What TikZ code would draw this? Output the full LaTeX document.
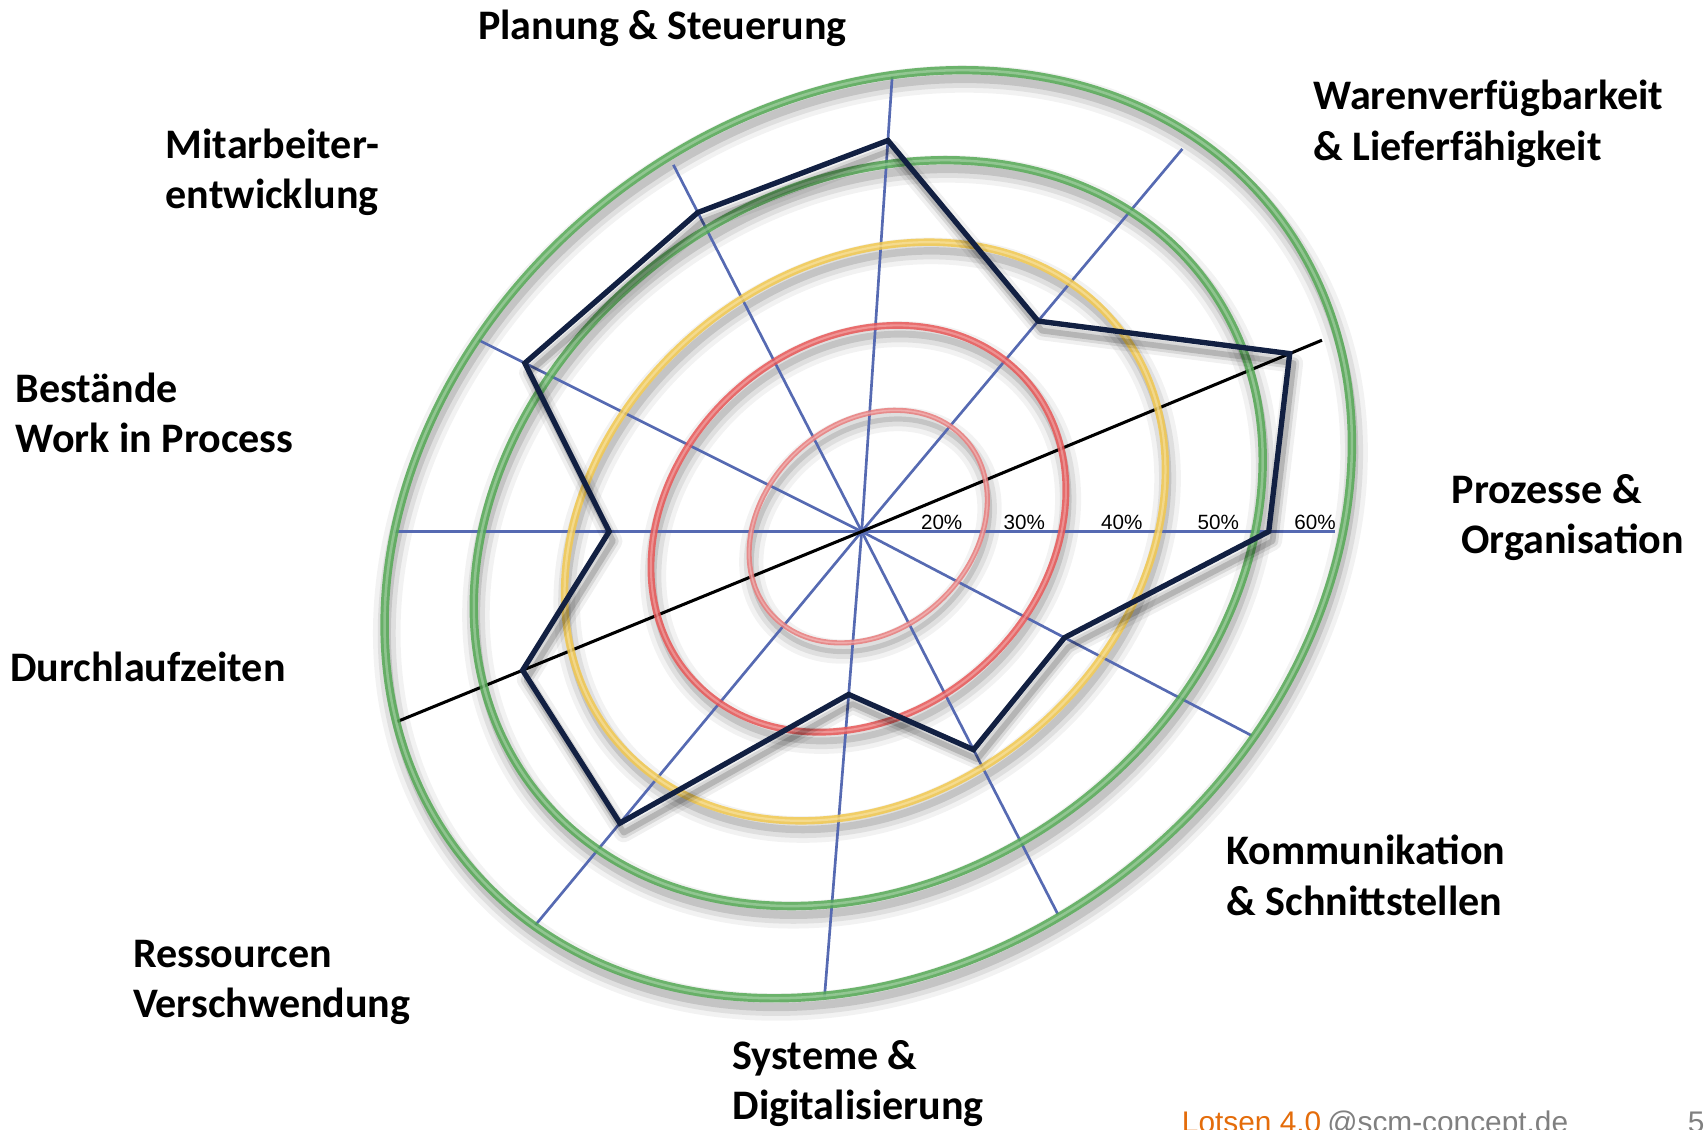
\documentclass[tikz,border=0pt]{standalone}
\usepackage{fontspec}
\setmainfont{Carlito}
\newfontfamily\chartfont{Liberation Sans}
\usetikzlibrary{positioning}
\usetikzlibrary{calc}

\definecolor{ringgreen}{RGB}{84,168,84}
\definecolor{ringyellow}{RGB}{242,200,78}
\definecolor{ringred}{RGB}{232,86,86}
\definecolor{ringpink}{RGB}{232,124,124}
\definecolor{spokeblue}{RGB}{86,106,178}
\definecolor{scorenavy}{RGB}{18,32,66}
\definecolor{lotsenorange}{RGB}{228,108,10}
\definecolor{footgray}{RGB}{128,128,128}

\begin{document}
\begin{tikzpicture}
                [x=0.02cm, y=-0.02cm,
                 every node/.style={inner sep=0pt},
                 areaname/.style={font=\bfseries\fontsize{22}{26.3}\selectfont, align=left, anchor=base west},
                 pct/.style={font=\chartfont\fontsize{10.8}{13}\selectfont, anchor=base},
                 footer/.style={font=\chartfont\fontsize{15.6}{18}\selectfont, anchor=base west},
                 spoke/.style={draw=spokeblue, line width=1.4pt},
                 blackspoke/.style={draw=black, line width=1.6pt},
                 ringshade/.style={draw=black, line cap=round},
                 score/.style={draw=scorenavy, line width=2.8pt, line join=miter}]
                \useasboundingbox (0,0) rectangle (1568,1038);

                % centre and spoke ends
                \coordinate (c) at (792,488.5);
                \coordinate (r1) at (820,70.6);
                \coordinate (r2) at (1086.7,136.9);
                \coordinate (r3) at (1215,312.7);
                \coordinate (r4) at (1227,488.5);
                \coordinate (r5) at (1150.5,676.1);
                \coordinate (r6) at (972.3,840.3);
                \coordinate (r7) at (757.8,916.4);
                \coordinate (r8) at (491.7,850.7);
                \coordinate (r9) at (365.1,663.2);
                \coordinate (r10) at (362.1,488.5);
                \coordinate (r11) at (440.2,312.7);
                \coordinate (r12) at (618.9,151.5);

                % ring shadows
                \foreach \cx/\cy/\rx/\ry/\rot/\w in {798/491/9.54/7.80/39/4.4pt, 798/490/7.74/6.30/37/4.4pt,
                    795/488.5/5.98/4.80/40/3.9pt, 789/486/4.12/3.40/42/3.6pt, 798/484/2.40/1.90/42/2.7pt}
                {
                  \begin{scope}[shift={(\cx+2,\cy+8)}, rotate=\rot]
                    \draw[ringshade, opacity=0.05, line width=\w+10pt] (0,0) ellipse [x radius=\rx cm, y radius=\ry cm];
                    \draw[ringshade, opacity=0.08, line width=\w+5pt] (0,0) ellipse [x radius=\rx cm, y radius=\ry cm];
                    \draw[ringshade, opacity=0.12, line width=\w] (0,0) ellipse [x radius=\rx cm, y radius=\ry cm];
                  \end{scope}
                }

                % spokes
                \foreach \r in {r1,r2,r4,r5,r6,r7,r8,r10,r11,r12}
                  \draw[spoke] (c) -- (\r);
                \draw[blackspoke] (r9) -- (c) -- (r3);

                % rings
                \foreach \cx/\cy/\rx/\ry/\rot/\col/\w in {798/491/9.54/7.80/39/ringgreen/4.4pt,
                    798/490/7.74/6.30/37/ringgreen/4.4pt, 795/488.5/5.98/4.80/40/ringyellow/3.9pt,
                    789/486/4.12/3.40/42/ringred/3.6pt, 798/484/2.40/1.90/42/ringpink/2.7pt}
                {
                  \begin{scope}[shift={(\cx,\cy)}, rotate=\rot]
                    \draw[draw=\col, line width=\w, opacity=0.85] (0,0) ellipse [x radius=\rx cm, y radius=\ry cm];
                    \draw[draw=\col!40!white, line width=0.3*\w, opacity=0.5] (0,0) ellipse [x radius=\rx cm, y radius=\ry cm];
                  \end{scope}
                }

                % score polygon
                \coordinate (s1) at ($(c)!0.86!(r1)$);
                \coordinate (s2) at ($(c)!0.55!(r2)$);
                \coordinate (s3) at ($(c)!0.93!(r3)$);
                \coordinate (s4) at ($(c)!0.86!(r4)$);
                \coordinate (s5) at ($(c)!0.52!(r5)$);
                \coordinate (s6) at ($(c)!0.57!(r6)$);
                \coordinate (s7) at ($(c)!0.35!(r7)$);
                \coordinate (s8) at ($(c)!0.74!(r8)$);
                \coordinate (s9) at ($(c)!0.73!(r9)$);
                \coordinate (s10) at ($(c)!0.54!(r10)$);
                \coordinate (s11) at ($(c)!0.88!(r11)$);
                \coordinate (s12) at ($(c)!0.87!(r12)$);
                \foreach \lw/\op in {10pt/0.06, 6pt/0.1, 3pt/0.16}
                  \draw[ringshade, line join=round, line width=\lw, opacity=\op, transform canvas={xshift=2pt, yshift=-5pt}]
                    (s1) -- (s2) -- (s3) -- (s4) -- (s5) -- (s6) -- (s7) -- (s8) -- (s9) -- (s10) -- (s11) -- (s12) -- cycle;
                \draw[score] (s1) -- (s2) -- (s3) -- (s4) -- (s5) -- (s6) -- (s7) -- (s8) -- (s9) -- (s10) -- (s11) -- (s12) -- cycle;

                % scale
                \node (p20) [pct] at (865.5,487) {20\%};
                \node (p30) [pct] at (941.5,487) {30\%};
                \node (p40) [pct] at (1031,487) {40\%};
                \node (p50) [pct] at (1119.8,487) {50\%};
                \node (p60) [pct] at (1208.6,487) {60\%};

                % area names (anchored on their last line)
                \node (planung) [areaname] at (439,36) {Planung \& Steuerung};
                \node (waren) [areaname] at (1207,147.2) {Warenverfügbarkeit\\\& Lieferfähigkeit};
                \node (prozesse) [areaname] at (1334,508.6) {Prozesse \&\\\ Organisation};
                \node (kommunikation) [areaname] at (1127,841) {Kommunikation\\\& Schnittstellen};
                \node (systeme) [areaname] at (673,1029) {Systeme \&\\Digitalisierung};
                \node (ressourcen) [areaname] at (122,935) {Ressourcen\\Verschwendung};
                \node (durchlauf) [areaname] at (9,626) {Durchlaufzeiten};
                \node (bestaende) [areaname] at (14,416) {Bestände\\Work in Process};
                \node (mitarbeiter) [areaname] at (152,191.5) {Mitarbeiter-\\entwicklung};

                % footer
                \node (lotsen) [footer, text=lotsenorange] at (1086,1041) {Lotsen 4.0};
                \node (site) [footer, text=footgray, base right=0.28em of lotsen] {@scm-concept.de};
                \node (page) [footer, text=footgray] at (1551,1041) {5};
            \end{tikzpicture}
\end{document}
